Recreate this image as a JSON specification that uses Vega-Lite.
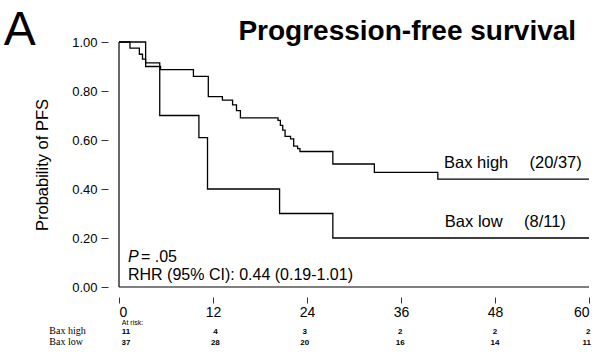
{
  "$schema": "https://vega.github.io/schema/vega-lite/v6.json",
  "width": 470,
  "height": 245,
  "autosize": "none",
  "padding": {"left": 119, "top": 42, "right": 12, "bottom": 68},
  "background": "white",
  "config": {
    "view": {"stroke": null},
    "font": "Liberation Sans",
    "axis": {"grid": false, "domain": false, "labelColor": "black", "tickColor": "black", "titleColor": "black", "labelFont": "Liberation Sans", "titleFont": "Liberation Sans"}
  },
  "datasets": {
    "curves": [
      {"group": "Bax low", "t": 0, "s": 1.0},
      {"group": "Bax low", "t": 3.4, "s": 0.915},
      {"group": "Bax low", "t": 5.2, "s": 0.70},
      {"group": "Bax low", "t": 10.2, "s": 0.61},
      {"group": "Bax low", "t": 11.3, "s": 0.40},
      {"group": "Bax low", "t": 20.5, "s": 0.30},
      {"group": "Bax low", "t": 27.3, "s": 0.20},
      {"group": "Bax low", "t": 60, "s": 0.20},
      {"group": "Bax high", "t": 0, "s": 1.0},
      {"group": "Bax high", "t": 1.4, "s": 0.975},
      {"group": "Bax high", "t": 2.6, "s": 0.95},
      {"group": "Bax high", "t": 3.0, "s": 0.93},
      {"group": "Bax high", "t": 3.4, "s": 0.90},
      {"group": "Bax high", "t": 5.3, "s": 0.887},
      {"group": "Bax high", "t": 9.5, "s": 0.86},
      {"group": "Bax high", "t": 11.4, "s": 0.777},
      {"group": "Bax high", "t": 13.2, "s": 0.763},
      {"group": "Bax high", "t": 14.5, "s": 0.743},
      {"group": "Bax high", "t": 15.0, "s": 0.72},
      {"group": "Bax high", "t": 15.5, "s": 0.69},
      {"group": "Bax high", "t": 20.3, "s": 0.68},
      {"group": "Bax high", "t": 20.6, "s": 0.66},
      {"group": "Bax high", "t": 20.9, "s": 0.64},
      {"group": "Bax high", "t": 21.2, "s": 0.615},
      {"group": "Bax high", "t": 21.9, "s": 0.605},
      {"group": "Bax high", "t": 22.3, "s": 0.575},
      {"group": "Bax high", "t": 22.8, "s": 0.565},
      {"group": "Bax high", "t": 23.1, "s": 0.553},
      {"group": "Bax high", "t": 27.3, "s": 0.502},
      {"group": "Bax high", "t": 32.6, "s": 0.468},
      {"group": "Bax high", "t": 40.7, "s": 0.44},
      {"group": "Bax high", "t": 60, "s": 0.44}
    ],
    "frame": [
      {"x": 0, "x2": 60, "y": 0, "y2": 0},
      {"x": 0, "x2": 0, "y": 0, "y2": 1}
    ],
    "risk": [
      {"row": "Bax high", "t": 0.9, "y": -0.19, "n": "11"},
      {"row": "Bax high", "t": 12.3, "y": -0.19, "n": "4"},
      {"row": "Bax high", "t": 23.7, "y": -0.19, "n": "3"},
      {"row": "Bax high", "t": 35.9, "y": -0.19, "n": "2"},
      {"row": "Bax high", "t": 48.0, "y": -0.19, "n": "2"},
      {"row": "Bax high", "t": 59.9, "y": -0.19, "n": "2"},
      {"row": "Bax low", "t": 0.9, "y": -0.235, "n": "37"},
      {"row": "Bax low", "t": 12.3, "y": -0.235, "n": "28"},
      {"row": "Bax low", "t": 23.7, "y": -0.235, "n": "20"},
      {"row": "Bax low", "t": 35.9, "y": -0.235, "n": "16"},
      {"row": "Bax low", "t": 48.0, "y": -0.235, "n": "14"},
      {"row": "Bax low", "t": 59.7, "y": -0.235, "n": "11"}
    ]
  },
  "layer": [
    {
      "data": {"name": "frame"},
      "mark": {"type": "rule", "color": "black", "strokeWidth": 1.2},
      "encoding": {
        "x": {"field": "x", "type": "quantitative", "scale": {"domain": [0, 60], "nice": false}},
        "x2": {"field": "x2"},
        "y": {"field": "y", "type": "quantitative", "scale": {"domain": [0, 1], "nice": false}},
        "y2": {"field": "y2"}
      }
    },
    {
      "data": {"name": "curves"},
      "mark": {"type": "line", "interpolate": "step-after", "color": "black", "strokeWidth": 1.3},
      "encoding": {
        "x": {"field": "t", "type": "quantitative", "scale": {"domain": [0, 60], "nice": false},
          "axis": {"values": [0, 12, 24, 36, 48, 60], "title": null, "offset": 10, "tickSize": 6, "labelPadding": 2, "labelFontSize": 14, "tickWidth": 0.8}},
        "y": {"field": "s", "type": "quantitative", "scale": {"domain": [0, 1], "nice": false},
          "axis": {"values": [0, 0.2, 0.4, 0.6, 0.8, 1.0], "format": ".2f", "title": "Probability of PFS", "offset": 11, "tickSize": 7, "labelPadding": 4, "labelFontSize": 13, "titleFontSize": 16.5, "titleFontWeight": "normal", "titlePadding": 21, "tickWidth": 0.8}},
        "detail": {"field": "group"}
      }
    },
    {
      "data": {"values": [{"label": "A", "x": -14.7, "y": 0.988}]},
      "mark": {"type": "text", "fontSize": 48, "align": "left", "baseline": "alphabetic", "color": "black"},
      "encoding": {"x": {"field": "x", "type": "quantitative"}, "y": {"field": "y", "type": "quantitative"}, "text": {"field": "label"}}
    },
    {
      "data": {"values": [{"label": "Progression-free survival", "x": 36.8, "y": 1.008}]},
      "mark": {"type": "text", "fontSize": 28, "fontWeight": "bold", "align": "center", "baseline": "alphabetic", "color": "black"},
      "encoding": {"x": {"field": "x", "type": "quantitative"}, "y": {"field": "y", "type": "quantitative"}, "text": {"field": "label"}}
    },
    {
      "data": {"values": [{"label": "P", "x": 1.15, "y": 0.102}]},
      "mark": {"type": "text", "fontSize": 16, "fontStyle": "italic", "align": "left", "baseline": "alphabetic", "color": "black"},
      "encoding": {"x": {"field": "x", "type": "quantitative"}, "y": {"field": "y", "type": "quantitative"}, "text": {"field": "label"}}
    },
    {
      "data": {"values": [{"label": "= .05", "x": 2.8, "y": 0.102}, {"label": "RHR (95% CI): 0.44 (0.19-1.01)", "x": 1.15, "y": 0.029}]},
      "mark": {"type": "text", "fontSize": 16, "align": "left", "baseline": "alphabetic", "color": "black"},
      "encoding": {"x": {"field": "x", "type": "quantitative"}, "y": {"field": "y", "type": "quantitative"}, "text": {"field": "label"}}
    },
    {
      "data": {"values": [
        {"label": "Bax high", "x": 41.5, "y": 0.486},
        {"label": "(20/37)", "x": 52.4, "y": 0.486},
        {"label": "Bax low", "x": 41.6, "y": 0.245},
        {"label": "(8/11)", "x": 51.7, "y": 0.245}
      ]},
      "mark": {"type": "text", "fontSize": 16.5, "align": "left", "baseline": "alphabetic", "color": "black"},
      "encoding": {"x": {"field": "x", "type": "quantitative"}, "y": {"field": "y", "type": "quantitative"}, "text": {"field": "label"}}
    },
    {
      "data": {"values": [{"label": "At risk:", "x": 0.35, "y": -0.157}]},
      "mark": {"type": "text", "fontSize": 7, "align": "left", "baseline": "alphabetic", "color": "black"},
      "encoding": {"x": {"field": "x", "type": "quantitative"}, "y": {"field": "y", "type": "quantitative"}, "text": {"field": "label"}}
    },
    {
      "data": {"values": [{"label": "Bax high", "x": -8.9, "y": -0.19}, {"label": "Bax low", "x": -8.9, "y": -0.235}]},
      "mark": {"type": "text", "fontSize": 10, "font": "Liberation Serif", "align": "left", "baseline": "alphabetic", "color": "black"},
      "encoding": {"x": {"field": "x", "type": "quantitative"}, "y": {"field": "y", "type": "quantitative"}, "text": {"field": "label"}}
    },
    {
      "data": {"name": "risk"},
      "mark": {"type": "text", "fontSize": 8, "fontWeight": "bold", "align": "center", "baseline": "alphabetic", "color": "black"},
      "encoding": {"x": {"field": "t", "type": "quantitative"}, "y": {"field": "y", "type": "quantitative"}, "text": {"field": "n"}}
    }
  ]
}
